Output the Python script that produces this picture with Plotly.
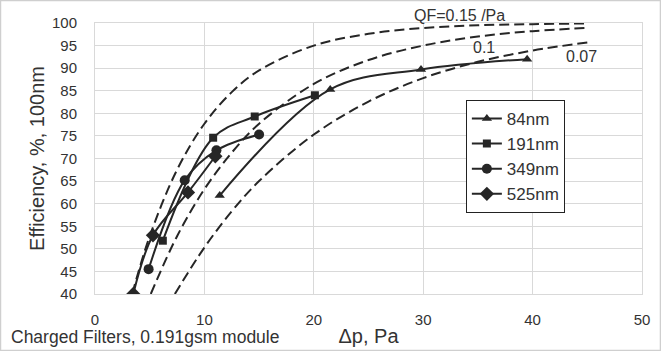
import plotly.graph_objects as go

# Measured series (Δp in Pa, efficiency in %)
dp_84 = [11.4, 21.5, 29.8, 39.5]
eff_84 = [61.8, 85.3, 89.7, 92.0]

dp_191 = [6.2, 10.8, 14.6, 20.1]
eff_191 = [51.8, 74.6, 79.3, 84.0]

dp_349 = [4.9, 8.2, 11.1, 15.0]
eff_349 = [45.5, 65.2, 71.8, 75.3]

dp_525 = [3.5, 5.3, 8.5, 11.0]
eff_525 = [40.0, 53.0, 62.5, 70.5]

# Dashed reference curves (QF = 0.15, 0.1, 0.07 /Pa)
qf15_dp = [3.4, 5.0, 7.5, 10.0, 12.5, 15.0, 20.0, 25.0, 30.0, 35.0, 40.0, 45.0]
qf15_eff = [40.0, 52.8, 67.5, 77.7, 84.7, 89.5, 95.0, 97.6, 98.9, 99.5, 99.75, 99.9]

qf10_dp = [5.1, 7.5, 10.0, 12.5, 15.0, 20.0, 25.0, 30.0, 35.0, 40.0, 45.0]
qf10_eff = [40.0, 52.8, 63.2, 71.3, 77.7, 86.5, 91.8, 95.0, 97.0, 98.2, 98.9]

qf07_dp = [7.3, 10.0, 12.5, 15.0, 20.0, 25.0, 30.0, 35.0, 40.0, 45.0]
qf07_eff = [40.0, 50.3, 58.3, 65.0, 75.3, 82.6, 87.8, 91.4, 93.9, 95.7]

x_ticks = [0, 10, 20, 30, 40, 50]
y_ticks = [40, 45, 50, 55, 60, 65, 70, 75, 80, 85, 90, 95, 100]

INK = "#262626"
FONT = "Liberation Sans, Arial, sans-serif"

fig = go.Figure()

for xs, ys in [(qf15_dp, qf15_eff), (qf10_dp, qf10_eff), (qf07_dp, qf07_eff)]:
    fig.add_trace(go.Scatter(
        x=xs, y=ys, mode="lines", showlegend=False, hoverinfo="skip",
        line=dict(color=INK, width=2, dash="10px,5px", shape="spline", smoothing=1.0),
    ))

series = [
    ("84nm", dp_84, eff_84, "triangle-up", 9),
    ("191nm", dp_191, eff_191, "square", 8),
    ("349nm", dp_349, eff_349, "circle", 10),
    ("525nm", dp_525, eff_525, "diamond", 11),
]
for name, xs, ys, sym, sz in series:
    fig.add_trace(go.Scatter(
        x=xs, y=ys, mode="lines+markers", name=name,
        line=dict(color=INK, width=2, shape="spline", smoothing=1.0),
        marker=dict(symbol=sym, size=sz, color=INK),
    ))

fig.add_annotation(x=0.667, y=1.028, text="QF=0.15 /Pa", showarrow=False,
                   font=dict(size=16, color="#333"), xref="paper", yref="paper",
                   xanchor="center", yanchor="middle")
fig.add_annotation(x=35.6, y=94.6, text="0.1", showarrow=False,
                   font=dict(size=16, color="#333"), xref="x", yref="y")
fig.add_annotation(x=44.5, y=92.6, text="0.07", showarrow=False,
                   font=dict(size=16, color="#333"), xref="x", yref="y")
fig.add_annotation(x=-0.158, y=-0.159, xref="paper", yref="paper",
                   text="Charged Filters, 0.191gsm module", showarrow=False,
                   xanchor="left", yanchor="middle",
                   font=dict(size=17.5, color="#333"))

# outer chart border
fig.add_shape(type="rect", xref="paper", yref="paper",
              x0=-0.1728, x1=1.0338, y0=-0.2085, y1=1.083,
              line=dict(color="#cfcfcf", width=1.5), fillcolor="rgba(0,0,0,0)")

fig.update_layout(
    width=661, height=351,
    margin=dict(l=95, r=19, t=23, b=57, autoexpand=False),
    paper_bgcolor="white", plot_bgcolor="white",
    font=dict(family=FONT, color="#333", size=15),
    legend=dict(x=0.678, y=0.716, xanchor="left", yanchor="top",
                bordercolor="#222", borderwidth=1, bgcolor="white",
                font=dict(size=17, color="#333"), itemwidth=30,
                tracegroupgap=0),
)
fig.update_xaxes(
    range=[0, 50], tickvals=x_ticks, showgrid=True, gridcolor="#d9d9d9",
    gridwidth=1, showline=True, linecolor="#d9d9d9", mirror=True,
    zeroline=False, ticks="", ticklabelstandoff=12, automargin=False,
    tickfont=dict(size=15, color="#333"),
    title=dict(text="Δp, Pa", font=dict(size=20, color="#333"), standoff=1),
)
fig.update_yaxes(
    range=[40, 100], tickvals=y_ticks, showgrid=True, gridcolor="#d9d9d9",
    gridwidth=1, showline=True, linecolor="#d9d9d9", mirror=True,
    zeroline=False, ticks="", ticklabelstandoff=14, automargin=False,
    tickfont=dict(size=15, color="#333"),
    title=dict(text="Efficiency, %, 100nm", font=dict(size=20, color="#333"), standoff=1),
)

fig.write_html("out.html", config={"displayModeBar": False},
               post_script="document.body.style.margin='0';document.body.style.overflow='hidden';")
